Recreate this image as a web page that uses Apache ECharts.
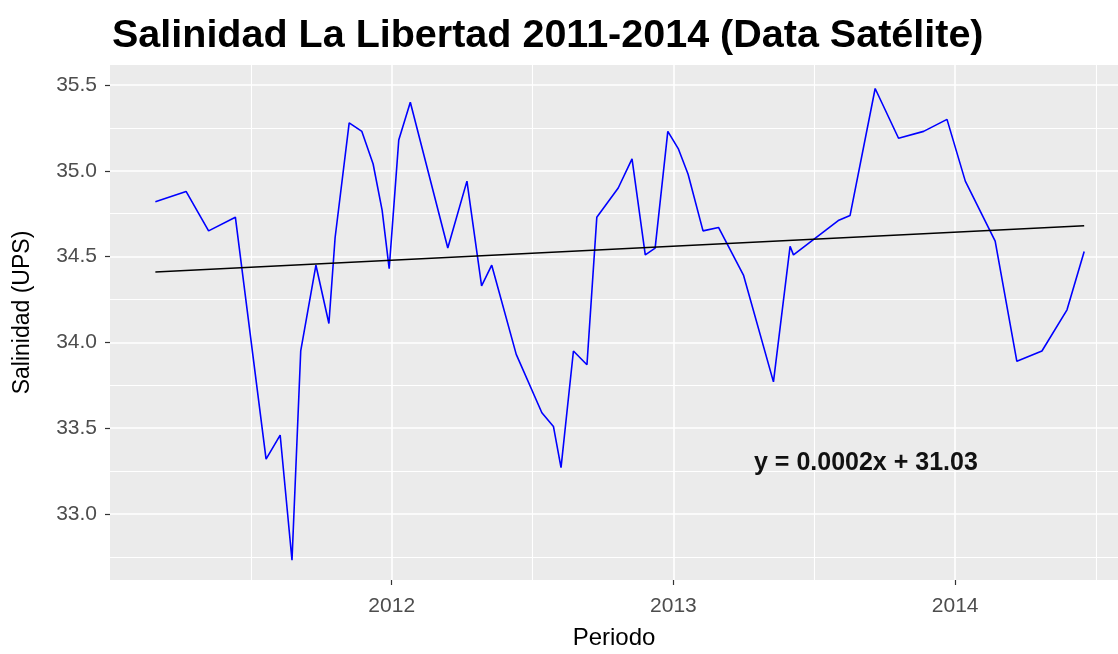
<!DOCTYPE html>
<html>
<head>
<meta charset="utf-8">
<script src="https://cdn.jsdelivr.net/npm/echarts@6/dist/echarts.min.js"></script>
<style>
  html, body { margin: 0; padding: 0; background: #fff; }
  #chart { width: 1118px; height: 654px; }
</style>
</head>
<body>
<div id="chart"></div>
<script>
// decimal year of each satellite reading
const periods = [
  2011.161, 2011.270, 2011.350, 2011.445, 2011.554, 2011.604, 2011.646, 2011.677,
  2011.731, 2011.777, 2011.799, 2011.849, 2011.894, 2011.934, 2011.966, 2011.991,
  2012.025, 2012.066, 2012.199, 2012.267, 2012.319, 2012.355, 2012.442, 2012.533,
  2012.574, 2012.601, 2012.645, 2012.693, 2012.728, 2012.804, 2012.853, 2012.900,
  2012.935, 2012.980, 2013.017, 2013.052, 2013.105, 2013.160, 2013.249, 2013.355,
  2013.414, 2013.426, 2013.585, 2013.627, 2013.716, 2013.799, 2013.888, 2013.971,
  2014.036, 2014.142, 2014.219, 2014.308, 2014.397, 2014.458
]
const salinity = [
  34.82, 34.88, 34.65, 34.73, 33.32, 33.46, 32.73, 33.95,
  34.45, 34.11, 34.61, 35.28, 35.23, 35.04, 34.77, 34.43,
  35.18, 35.40, 34.55, 34.94, 34.33, 34.45, 33.93, 33.59,
  33.51, 33.27, 33.95, 33.87, 34.73, 34.90, 35.07, 34.51,
  34.55, 35.23, 35.13, 34.98, 34.65, 34.67, 34.39, 33.77,
  34.56, 34.51, 34.71, 34.74, 35.48, 35.19, 35.23, 35.30,
  34.94, 34.59, 33.89, 33.95, 34.19, 34.53
]

// linear fit drawn over the data span
const trendX = [2011.161, 2014.458]
const trendY = [34.41, 34.68]

const xBreaks = [2012, 2013, 2014]
const xMinorBreaks = [2011.5, 2012.5, 2013.5, 2014.5]
const yBreaks = [33.0, 33.5, 34.0, 34.5, 35.0, 35.5]
const yMinorBreaks = [32.75, 33.25, 33.75, 34.25, 34.75, 35.25]

const chart = echarts.init(document.getElementById('chart'))

const fontFamily = 'Liberation Sans, Arial, sans-serif'
const xMin = 2011.0, xMax = 2014.578
const yMin = 32.615, yMax = 35.617

function minorAxis(values, pos) {
  return {
    type: 'value',
    min: pos === 'top' ? xMin : yMin,
    max: pos === 'top' ? xMax : yMax,
    position: pos,
    axisLine: { show: false },
    axisTick: { show: false, customValues: values },
    axisLabel: { show: false },
    splitLine: { show: true, lineStyle: { color: '#ffffff', width: 1.1 } }
  }
}

const option = {
  animation: false,
  backgroundColor: '#ffffff',
  title: {
    text: 'Salinidad La Libertad 2011-2014 (Data Satélite)',
    left: 107,
    top: 11,
    textStyle: { fontFamily, fontSize: 39.5, fontWeight: 'bold', color: '#000' }
  },
  grid: {
    left: 110,
    right: 0,
    top: 65,
    bottom: 74,
    outerBoundsMode: 'none',
    containLabel: false,
    show: true,
    backgroundColor: '#EBEBEB',
    borderWidth: 0
  },
  xAxis: [
    {
      type: 'value',
      min: xMin,
      max: xMax,
      position: 'bottom',
      name: 'Periodo',
      nameLocation: 'middle',
      nameGap: 46,
      nameTextStyle: { fontFamily, fontSize: 24, color: '#000' },
      axisLine: { show: false },
      axisTick: { show: true, length: 5, customValues: xBreaks, lineStyle: { color: '#333', width: 1.2 } },
      axisLabel: {
        customValues: xBreaks,
        margin: 16,
        fontFamily,
        fontSize: 21,
        color: '#4D4D4D',
        formatter: (v) => String(Math.round(v))
      },
      splitLine: { show: true, lineStyle: { color: '#ffffff', width: 1.6 } }
    },
    minorAxis(xMinorBreaks, 'top')
  ],
  yAxis: [
    {
      type: 'value',
      min: yMin,
      max: yMax,
      position: 'left',
      name: 'Salinidad (UPS)',
      nameLocation: 'middle',
      nameGap: 76,
      nameTextStyle: { fontFamily, fontSize: 23, color: '#000', padding: [0, 0, 0, 20] },
      axisLine: { show: false },
      axisTick: { show: true, length: 5, customValues: yBreaks, lineStyle: { color: '#333', width: 1.2 } },
      axisLabel: {
        customValues: yBreaks,
        margin: 13,
        fontFamily,
        fontSize: 21,
        color: '#4D4D4D',
        formatter: (v) => v.toFixed(1)
      },
      splitLine: { show: true, lineStyle: { color: '#ffffff', width: 1.6 } }
    },
    minorAxis(yMinorBreaks, 'right')
  ],
  graphic: [
    {
      type: 'text',
      left: 754,
      top: 451,
      z: 50,
      style: {
        text: 'y = 0.0002x + 31.03',
        font: 'bold 25px ' + fontFamily,
        fill: '#111'
      }
    }
  ],
  series: [
    {
      name: 'Salinidad',
      type: 'line',
      data: periods.map((p, i) => [p, salinity[i]]),
      showSymbol: false,
      lineStyle: { color: '#0000FF', width: 1.6 },
      z: 3
    },
    {
      name: 'Tendencia',
      type: 'line',
      data: trendX.map((p, i) => [p, trendY[i]]),
      showSymbol: false,
      lineStyle: { color: '#000000', width: 1.6 },
      z: 4
    }
  ]
}

chart.setOption(option)

window.addEventListener('resize', () => {
  chart.resize()
})
</script>
</body>
</html>
